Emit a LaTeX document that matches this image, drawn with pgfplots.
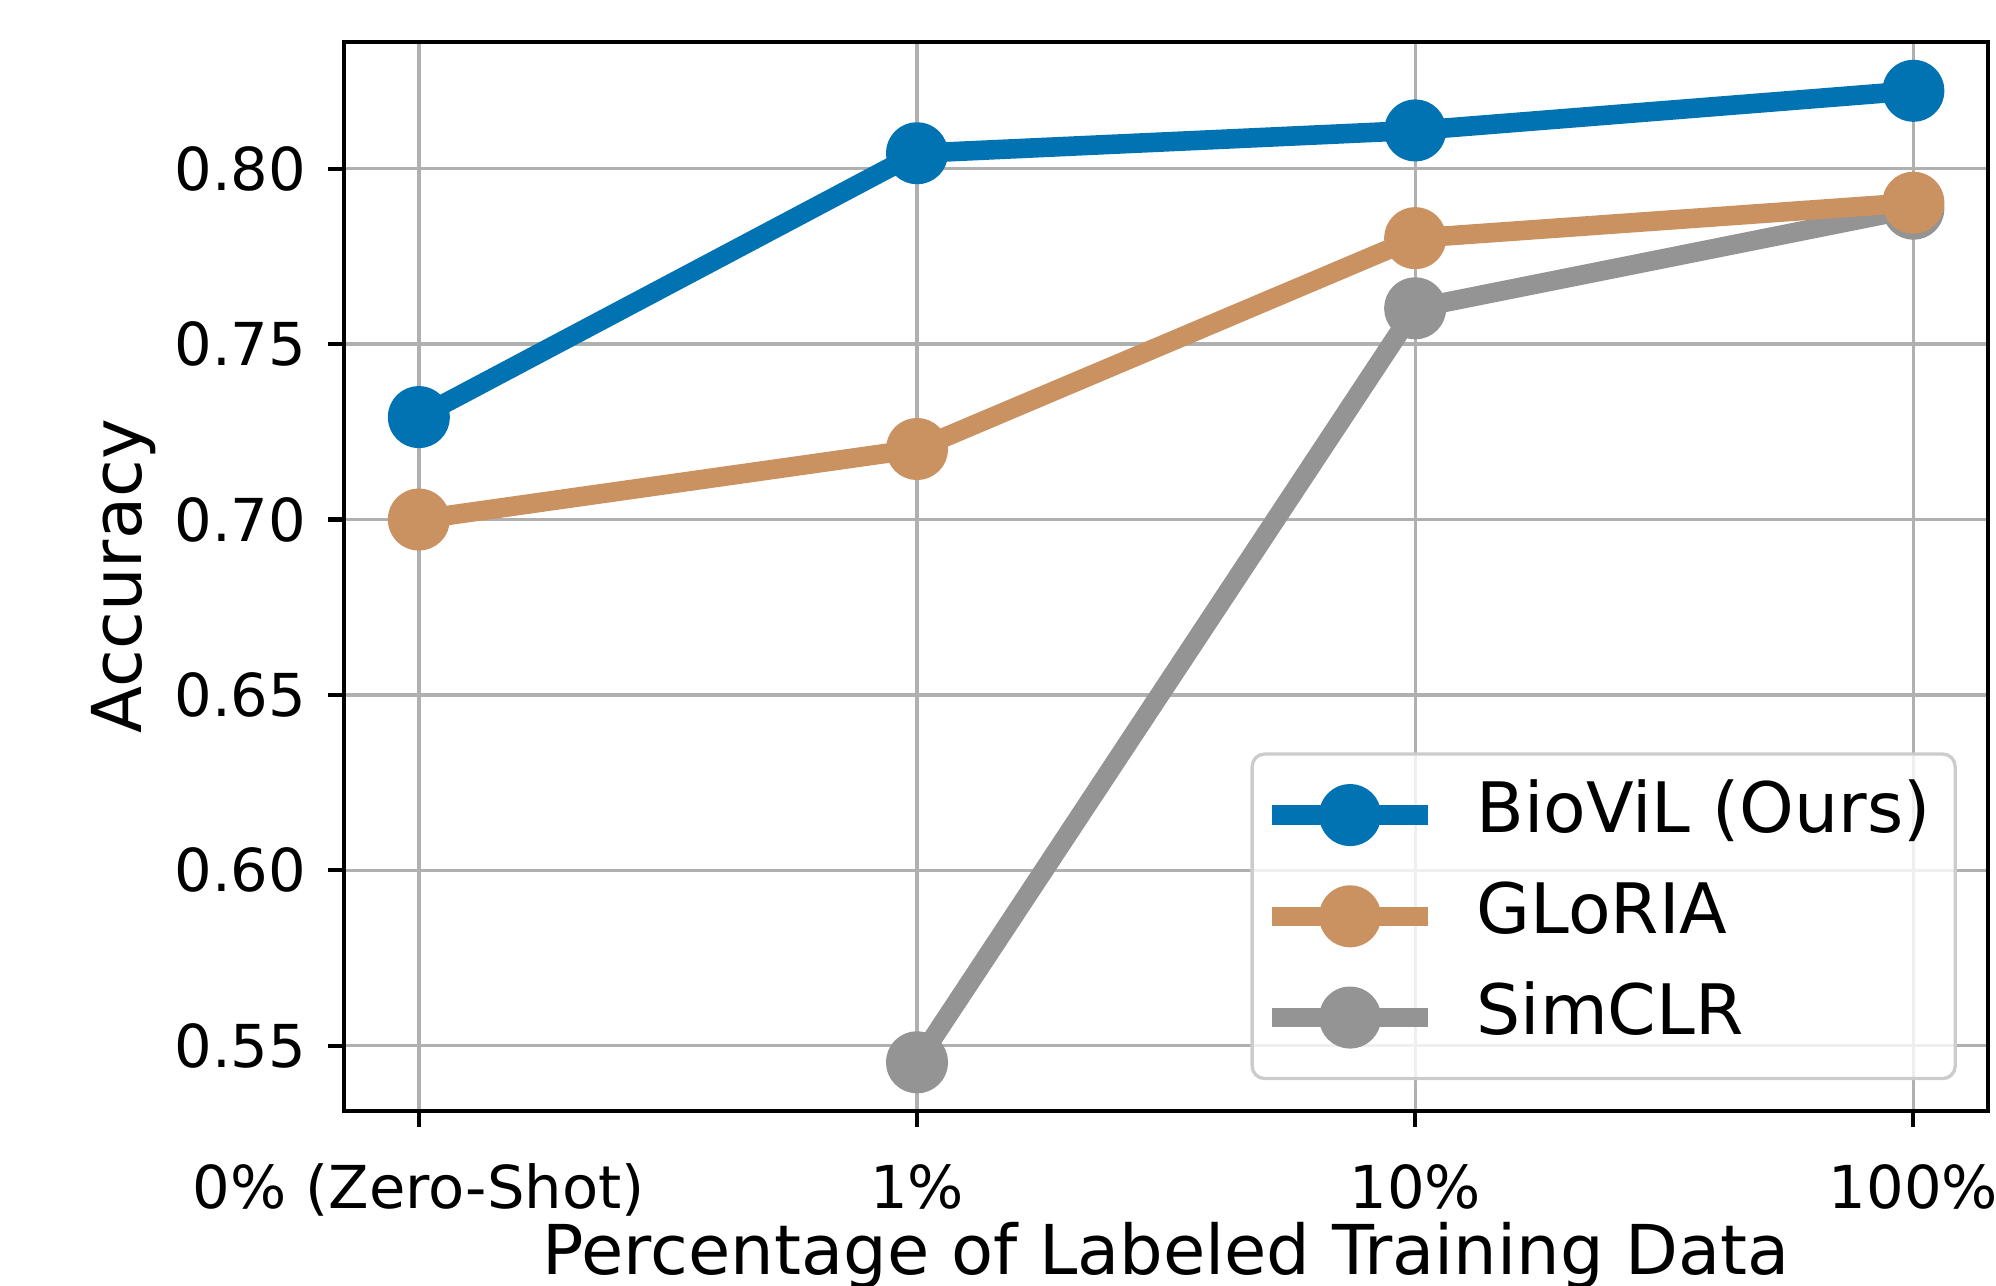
\documentclass[border=0pt]{standalone}
\usepackage{fontspec}
\setmainfont{DejaVu Sans}
\usepackage{pgfplots}
\pgfplotsset{compat=1.18}
\definecolor{cblue}{HTML}{0173B2}
\definecolor{ctan}{HTML}{CA9161}
\definecolor{cgray}{HTML}{949494}
\definecolor{gridgray}{HTML}{B0B0B0}
\definecolor{leggray}{HTML}{CCCCCC}
\begin{document}
\begin{tikzpicture}
\useasboundingbox (-82.6pt,-42pt) rectangle (396.5pt,266.6pt);
\begin{axis}[
  at={(0,0)}, anchor=south west,
  scale only axis, width=394.6pt, height=256.6pt,
  xmin=-0.15, xmax=3.15, ymin=0.5315, ymax=0.8362,
  clip mode=individual,
  xtick={0,1,2,3},
  xticklabels={0\% (Zero-Shot),1\%,10\%,100\%},
  ytick={0.55,0.60,0.65,0.70,0.75,0.80},
  yticklabels={},
  /pgf/number format/assume math mode=true,
  tick label style={font=\fontsize{14.2}{17}\selectfont},
  xticklabel style={anchor=base, yshift=-19.6pt},
  label style={font=\fontsize{16.5}{20}\selectfont},
  xlabel={Percentage of Labeled Training Data},
  ylabel={Accuracy},
  xlabel style={at={(axis description cs:0.5,-0.1535)}, anchor=base},
  ylabel style={at={(axis description cs:-0.1234,0.5)}, anchor=base},
  grid=major,
  grid style={color=gridgray, line width=0.8pt},
  axis line style={line width=1pt, black},
  tick style={line width=1pt, black},
  tick align=outside,
  major tick length=3.8pt,
  xtick pos=left, ytick pos=left,
  reverse legend,
  legend image code/.code={\draw[fill opacity=1, draw opacity=1, mark repeat=2, mark phase=2] plot coordinates {(0pt,0pt) (18.75pt,0pt) (37.5pt,0pt)};},
  legend style={at={(0.981,0.0285)}, anchor=south east,
    draw=leggray, line width=0.8pt, rounded corners=3pt,
    fill=white, fill opacity=0.8, text opacity=1, draw opacity=1,
    font=\fontsize{16.7}{20}\selectfont,
    inner xsep=2.4pt, inner ysep=6.5pt,
    row sep=8pt, /tikz/column sep=9.3pt,
    nodes={inner sep=0pt, text height=12.3pt, text depth=4pt}},
  legend cell align=left,
]
\addplot[color=cgray, line width=4.7pt, line join=round, mark=*, mark size=5.1pt, mark options={draw=none, fill=cgray}]
  coordinates {(1,0.5453) (2,0.7602) (3,0.7886)};
\addplot[color=ctan, line width=4.7pt, line join=round, mark=*, mark size=5.1pt, mark options={draw=none, fill=ctan}]
  coordinates {(0,0.7000) (1,0.7201) (2,0.7802) (3,0.7903)};
\addplot[color=cblue, line width=4.7pt, line join=round, mark=*, mark size=5.1pt, mark options={draw=none, fill=cblue}]
  coordinates {(0,0.7292) (1,0.8044) (2,0.8109) (3,0.8222)};
\legend{SimCLR\hspace*{3.5pt},GLoRIA\hspace*{3.5pt},BioViL (Ours)\hspace*{3.5pt}}
\begin{scope}[every node/.style={anchor=east, inner sep=0pt, font=\fontsize{14.2}{17}\selectfont}]
\node at ([xshift=-8.9pt]axis cs:-0.15,0.55) {0.55};
\node at ([xshift=-8.9pt]axis cs:-0.15,0.60) {0.60};
\node at ([xshift=-8.9pt]axis cs:-0.15,0.65) {0.65};
\node at ([xshift=-8.9pt]axis cs:-0.15,0.70) {0.70};
\node at ([xshift=-8.9pt]axis cs:-0.15,0.75) {0.75};
\node at ([xshift=-8.9pt]axis cs:-0.15,0.80) {0.80};
\end{scope}
\end{axis}
\end{tikzpicture}
\end{document}
